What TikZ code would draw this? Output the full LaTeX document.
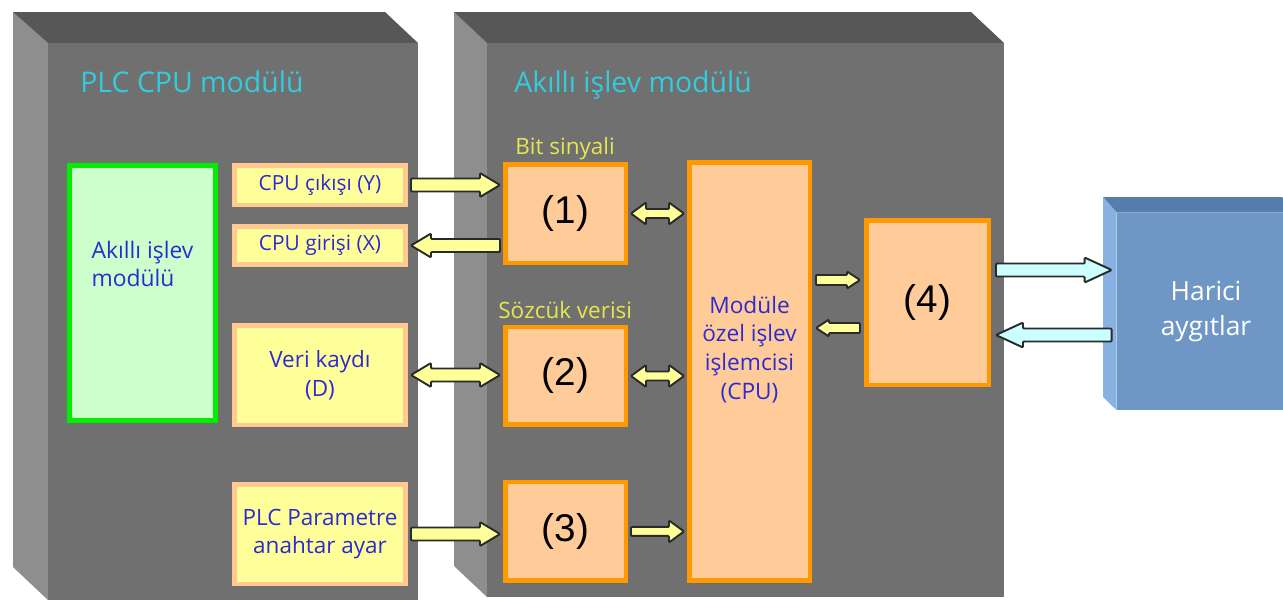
\documentclass[tikz,border=0pt]{standalone}
\usepackage{fontspec}
\setmainfont{Open Sans}
\newfontfamily\numfont{Liberation Sans}
\usepackage{tikz}
\usetikzlibrary{calc, positioning}
\definecolor{boxfront}{HTML}{707070}
\definecolor{boxtop}{HTML}{575757}
\definecolor{boxside}{HTML}{8E8E8E}
\definecolor{titlecyan}{HTML}{33CCDD}
\definecolor{txtblue}{HTML}{2B2BD0}
\definecolor{lblyellow}{HTML}{E6E650}
\definecolor{regfill}{HTML}{FFFF99}
\definecolor{regdraw}{HTML}{FFC990}
\definecolor{procfill}{HTML}{FFCC99}
\definecolor{procdraw}{HTML}{FF9900}
\definecolor{ifmfill}{HTML}{CCFFCC}
\definecolor{ifmdraw}{HTML}{00EE00}
\definecolor{devfront}{HTML}{6F97C6}
\definecolor{devtop}{HTML}{557DAE}
\definecolor{devside}{HTML}{88B2E2}
\definecolor{arrfill}{HTML}{FFFF99}
\definecolor{linkfill}{HTML}{CCFFFF}
\definecolor{arrline}{HTML}{2A2A2A}

\tikzset{
  arrshaft/.store in=\arrshaft, arrhead/.store in=\arrhead,
  arrtip/.store in=\arrtip, arrgap/.store in=\arrgap,
  arrshaft=0.13cm, arrhead=0.24cm, arrtip=0.4cm, arrgap=0.06cm
}

\begin{document}
\begin{tikzpicture}[x=0.02cm, y=-0.02cm,
    title/.style={text=titlecyan, font=\fontsize{16.2}{19}\selectfont, inner sep=0pt},
    regbox/.style={rectangle, draw=regdraw, fill=regfill, line width=0.09cm,
                   minimum width=3.43cm, text=txtblue, align=center,
                   font=\fontsize{12.8}{16.2}\selectfont, inner sep=1pt},
    procbox/.style={rectangle, draw=procdraw, fill=procfill, line width=0.09cm,
                    minimum width=2.41cm, font=\numfont\fontsize{22}{26}\selectfont},
    ifmbox/.style={rectangle, draw=ifmdraw, fill=ifmfill, line width=0.1cm,
                   minimum width=2.92cm, minimum height=5.1cm},
    ifmtext/.style={text=txtblue, align=left, font=\fontsize{13}{16}\selectfont},
    cputext/.style={text=txtblue, align=center, font=\fontsize{12.9}{16.4}\selectfont},
    sigtext/.style={text=lblyellow, font=\fontsize{12.8}{15}\selectfont, inner sep=0pt},
    devbox/.style={rectangle, fill=devfront, minimum width=3.56cm, minimum height=3.94cm,
                   text=white, align=center, font=\fontsize{15}{20}\selectfont},
    onearr/.style={draw=arrline, line width=1.1pt, fill=arrfill, rounded corners=0.6pt,
      to path={let \p1=(\tikztostart), \p2=(\tikztotarget), \n1={sign(\x2-\x1)} in
        (\x1+\n1*\arrgap,\y1+\arrshaft)
        -- (\x2-\n1*\arrgap-\n1*\arrtip,\y1+\arrshaft)
        -- (\x2-\n1*\arrgap-\n1*\arrtip,\y1+\arrhead)
        -- (\x2-\n1*\arrgap,\y1)
        -- (\x2-\n1*\arrgap-\n1*\arrtip,\y1-\arrhead)
        -- (\x2-\n1*\arrgap-\n1*\arrtip,\y1-\arrshaft)
        -- (\x1+\n1*\arrgap,\y1-\arrshaft) -- cycle}},
    twoarr/.style={draw=arrline, line width=1.1pt, fill=arrfill, rounded corners=0.6pt,
      to path={let \p1=(\tikztostart), \p2=(\tikztotarget), \n1={sign(\x2-\x1)} in
        (\x1+\n1*\arrgap,\y1)
        -- (\x1+\n1*\arrgap+\n1*\arrtip,\y1+\arrhead)
        -- (\x1+\n1*\arrgap+\n1*\arrtip,\y1+\arrshaft)
        -- (\x2-\n1*\arrgap-\n1*\arrtip,\y1+\arrshaft)
        -- (\x2-\n1*\arrgap-\n1*\arrtip,\y1+\arrhead)
        -- (\x2-\n1*\arrgap,\y1)
        -- (\x2-\n1*\arrgap-\n1*\arrtip,\y1-\arrhead)
        -- (\x2-\n1*\arrgap-\n1*\arrtip,\y1-\arrshaft)
        -- (\x1+\n1*\arrgap+\n1*\arrtip,\y1-\arrshaft)
        -- (\x1+\n1*\arrgap+\n1*\arrtip,\y1-\arrhead) -- cycle}},
    midarr/.style={arrshaft=0.09cm, arrhead=0.22cm, arrtip=0.3cm},
    smallarr/.style={arrshaft=0.1cm, arrhead=0.17cm, arrtip=0.26cm, arrgap=0.08cm},
    linkarr/.style={fill=linkfill, arrshaft=0.13cm, arrhead=0.25cm, arrtip=0.54cm, arrgap=0.1cm}
  ]
  \useasboundingbox (0,0) rectangle (1283,600);
  \clip (0,0) rectangle (1283,600);

  % PLC CPU module body
  \fill[boxside] (13,12) -- (48,43) -- (48,600) -- (13,567) -- cycle;
  \fill[boxtop] (13,12) -- (385,12) -- (418,43) -- (48,43) -- cycle;
  \fill[boxfront] (48,43) rectangle (418,600);
  % intelligent function module body
  \fill[boxside] (454,12) -- (487,43) -- (487,597) -- (454,566) -- cycle;
  \fill[boxtop] (454,12) -- (971,12) -- (1004,43) -- (487,43) -- cycle;
  \fill[boxfront] (487,43) rectangle (1004,597);

  \node[title, anchor=base west] (plctitle) at (80,92) {PLC CPU modülü};
  \node[title, anchor=base west] (ifmtitle) at (514,92) {Akıllı işlev modülü};

  % PLC CPU side
  \node[ifmbox] (ifm) at (142.5,293) {};
  \node[ifmtext] (ifmlbl) at ([yshift=0.58cm]ifm.center) {Akıllı işlev\\modülü};
  \node[regbox, minimum height=0.79cm, font=\fontsize{11.9}{14}\selectfont] (cpuout) at (320,185) {CPU çıkışı (Y)};
  \node[regbox, minimum height=0.77cm, font=\fontsize{11.9}{14}\selectfont, below=0.34cm of cpuout] (cpuin) {CPU girişi (X)};
  \node[regbox, minimum height=1.99cm] (reg) at (320,375) {Veri kaydı\\(D)};
  \node[regbox, minimum height=1.99cm] (param) at (320,534) {PLC Parametre\\anahtar ayar};

  % module side
  \node[procbox, minimum height=1.97cm] (c1) at (565.5,213.5) {(1)};
  \node[procbox, minimum height=1.95cm, below=1.2cm of c1] (c2) {(2)};
  \node[procbox, minimum height=1.97cm, below=1.06cm of c2] (c3) {(3)};
  \node[procbox, minimum height=8.37cm] (mcpu) at (749.5,371.5) {};
  \node[cputext] (mcpulbl) at ([yshift=0.44cm]mcpu.center) {Modüle\\özel işlev\\işlemcisi\\(CPU)};
  \node[procbox, minimum width=2.45cm, minimum height=3.29cm] (c4) at (927.5,302.5) {(4)};
  \node[sigtext, anchor=base west] (bitlbl) at (515,154) {Bit sinyali};
  \node[sigtext, anchor=base west] (wordlbl) at (498,318) {Sözcük verisi};

  % external devices
  \node[devbox] (hdev) at (1206,311.5) {Harici\\aygıtlar};
  \fill[devtop] (hdev.north west) -- (1103,197) -- (1282,197) -- (hdev.north east) -- cycle;
  \fill[devside] (hdev.north west) -- (1103,197) -- (1103,397) -- (hdev.south west) -- cycle;

  % connectors
  \draw[onearr] (cpuout.east) to (cpuout.east -| c1.west);
  \draw[onearr] (cpuin.east -| c1.west) to (cpuin.east);
  \draw[twoarr] (reg.east) to (reg.east -| c2.west);
  \draw[onearr] (param.east) to (param.east -| c3.west);
  \draw[twoarr, midarr] (c1.east) to (c1.east -| mcpu.west);
  \draw[twoarr, midarr] (c2.east) to (c2.east -| mcpu.west);
  \draw[onearr, midarr] (c3.east) to (c3.east -| mcpu.west);
  \coordinate (c4in) at ([yshift=0.45cm]c4.west);
  \coordinate (c4back) at ([yshift=-0.51cm]c4.west);
  \draw[onearr, smallarr] (mcpu.east |- c4in) to (c4in);
  \draw[onearr, smallarr] (c4back) to (mcpu.east |- c4back);
  \coordinate (devout) at ([yshift=0.65cm]c4.east);
  \coordinate (devin) at ([yshift=-0.65cm]c4.east);
  \draw[onearr, linkarr] (devout) to (devout -| hdev.west);
  \draw[onearr, linkarr] (devin -| hdev.west) to (devin);
\end{tikzpicture}
\end{document}
